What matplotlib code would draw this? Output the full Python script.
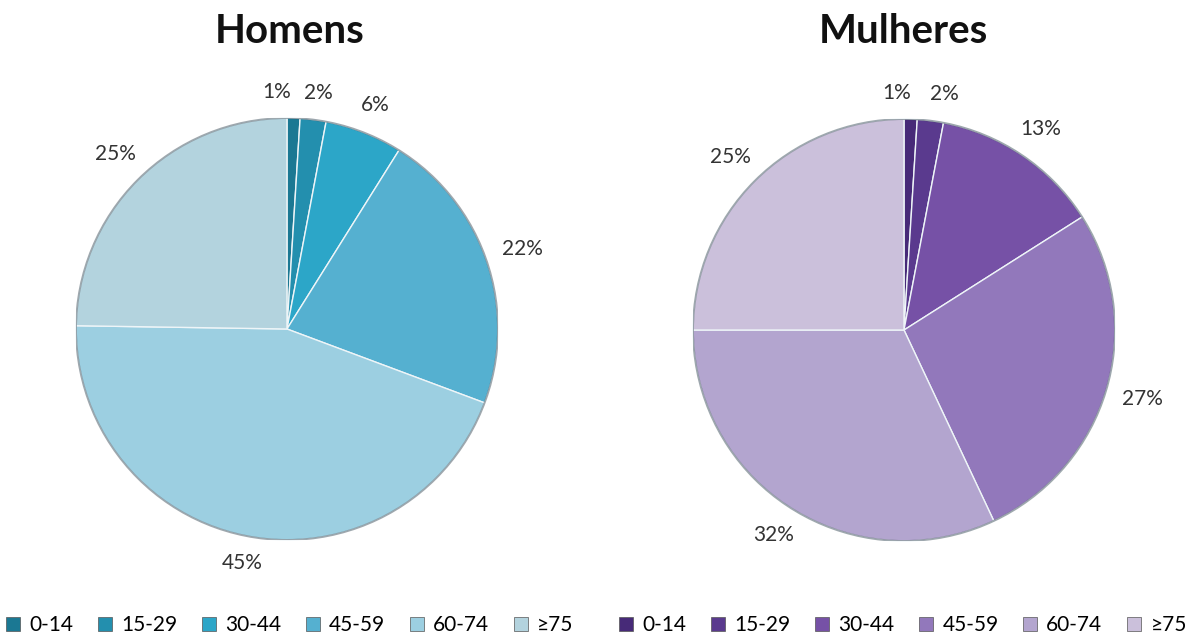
import numpy as np
import matplotlib.pyplot as plt
from matplotlib.patches import Patch, Circle

grupos = ['0-14', '15-29', '30-44', '45-59', '60-74', '≥75']
homens = [1, 2, 6, 22, 45, 25]
mulheres = [1, 2, 13, 27, 32, 25]

cores_h = ['#1b7893', '#238fae', '#2ca6c8', '#55b0d0', '#9ccfe1', '#b3d3de']
cores_m = ['#472a78', '#5a3a8e', '#7651a6', '#9278bb', '#b3a5cf', '#cbc0db']

plt.rcParams['font.family'] = ['Lato', 'DejaVu Sans']

fig = plt.figure(figsize=(11.93, 6.41), dpi=100)


def desenha(rect, valores, cores, titulo, tx, nudges):
    ax = fig.add_axes(rect)
    wedges, _ = ax.pie(valores, colors=cores, startangle=90, counterclock=False,
                       wedgeprops=dict(edgecolor='#eef5f8', linewidth=1.0))
    # contorno mais escuro para dar relevo
    ax.add_patch(Circle((0, 0), 1.0, fill=False, edgecolor='#3c4a55', linewidth=1.4, alpha=0.45))
    for i, (w, v) in enumerate(zip(wedges, valores)):
        ang = np.deg2rad((w.theta1 + w.theta2) / 2)
        r = 1.12 + 0.06 * abs(np.cos(ang))
        x = r * np.cos(ang) + nudges.get(i, 0)
        y = r * np.sin(ang)
        ax.text(x, y, f'{v}%', ha='center', va='center', fontsize=15, color='#333333')
    ax.set_xlim(-1, 1)
    ax.set_ylim(-1, 1)
    ax.set_aspect('equal')
    ax.axis('off')
    fig.text(tx, 0.933, titulo, ha='center', va='baseline', fontsize=29, fontweight='bold',
             color='#111111')
    handles = [Patch(facecolor=c, edgecolor='#555555', linewidth=0.5) for c in cores]
    fig.legend(handles, grupos, loc='center', bbox_to_anchor=(tx, 0.025), ncol=6,
               frameon=False, fontsize=15, handlelength=0.65, handleheight=0.65,
               handletextpad=0.45, columnspacing=1.2)


desenha([0.0637, 0.1576, 0.3537, 0.6583], homens, cores_h, 'Homens', 0.243, {0: -0.085, 1: 0.01})
desenha([0.5809, 0.156, 0.3537, 0.6583], mulheres, cores_m, 'Mulheres', 0.757, {0: -0.07, 1: 0.05})

fig.savefig('out.png', dpi=100, facecolor='white')
